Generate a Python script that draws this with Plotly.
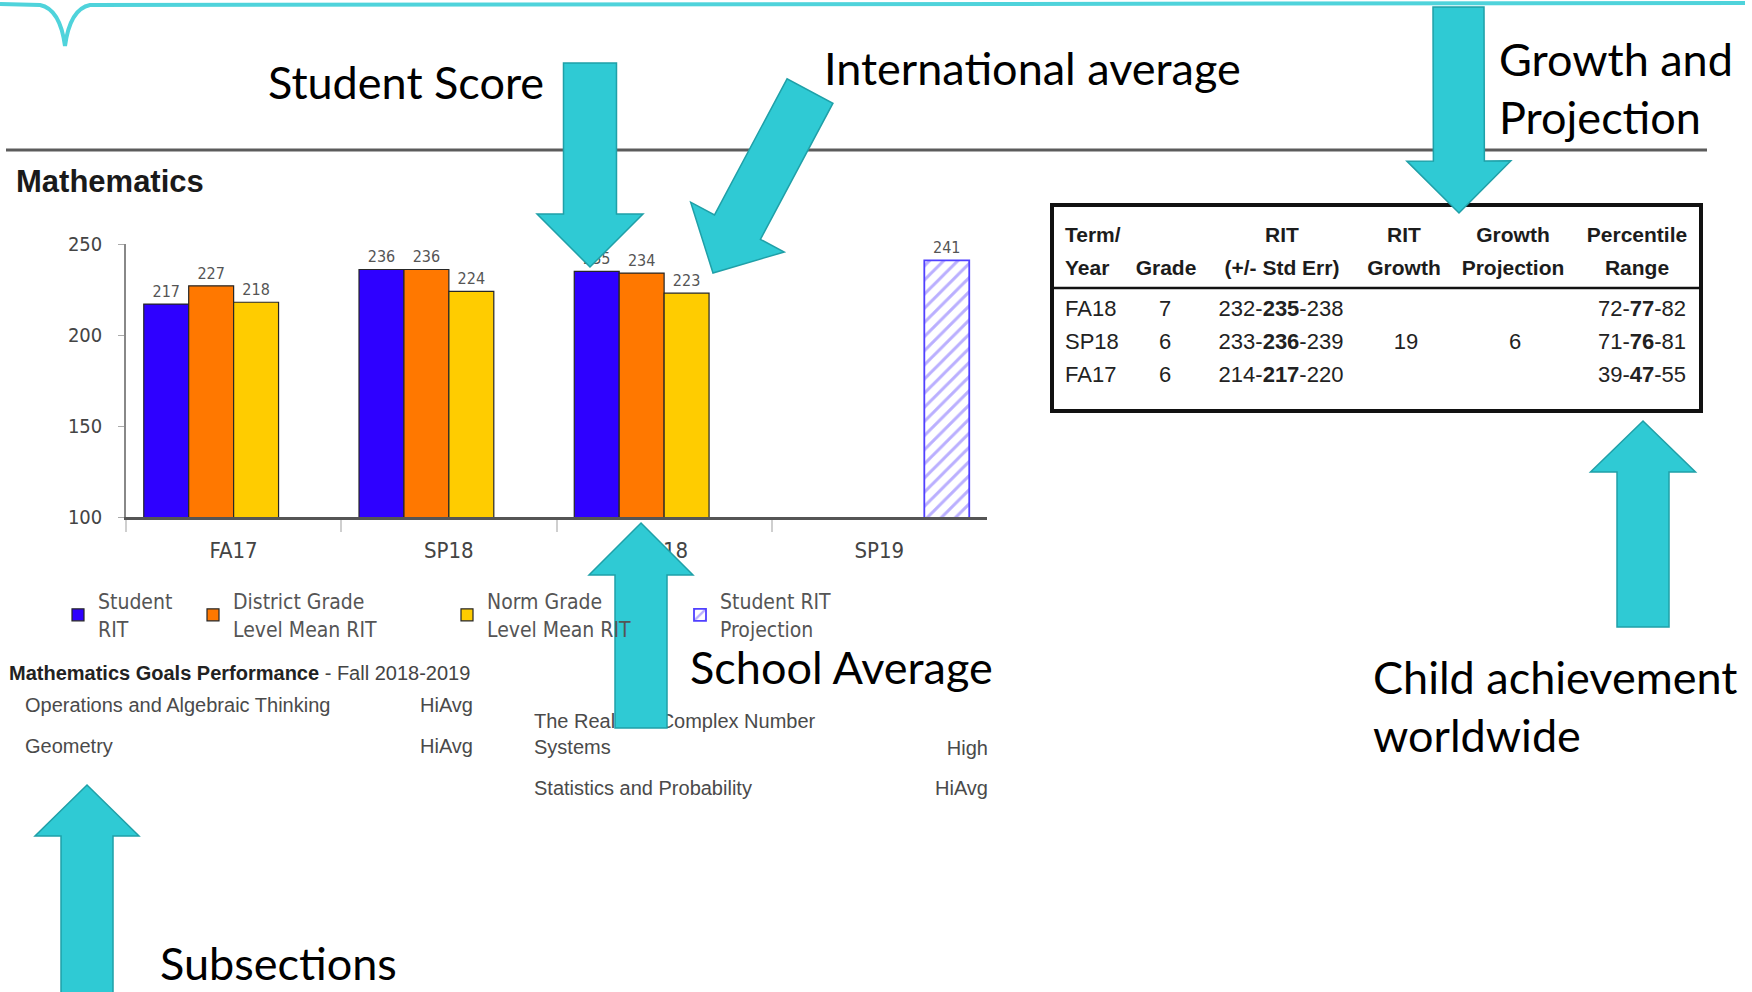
import math
import plotly.graph_objects as go

W, H = 1752, 992

# ---------------- data ----------------
terms = ["FA17", "SP18", "FA18", "SP19"]
student_rit = [217, 236, 235, None]
district_mean_rit = [227, 236, 234, None]
norm_mean_rit = [218, 224, 223, None]
rit_projection = [None, None, None, 241]
y_ticks = [100, 150, 200, 250]
series_names = ["Student<br>RIT", "District Grade<br>Level Mean RIT",
                "Norm Grade<br>Level Mean RIT", "Student RIT<br>Projection"]

tbl_headers = ["Term/<br>Year", "<br>Grade", "RIT<br>(+/- Std Err)", "RIT<br>Growth",
               "Growth<br>Projection", "Percentile<br>Range"]
tbl_term = ["FA18", "SP18", "FA17"]
tbl_grade = [7, 6, 6]
tbl_rit_lo = [232, 233, 214]
tbl_rit = [235, 236, 217]
tbl_rit_hi = [238, 239, 220]
tbl_growth = [None, 19, None]
tbl_growth_proj = [None, 6, None]
tbl_pct_lo = [72, 71, 39]
tbl_pct = [77, 76, 47]
tbl_pct_hi = [82, 81, 55]

goals_title_bold = "Mathematics Goals Performance"
goals_title_rest = " - Fall 2018-2019"
goal_names = ["Operations and Algebraic Thinking", "Geometry",
              "The Real and Complex Number<br>Systems", "Statistics and Probability"]
goal_levels = ["HiAvg", "HiAvg", "High", "HiAvg"]

# ---------------- style ----------------
COND = "DejaVu Sans Condensed, DejaVu Sans, sans-serif"
NARROW = "Liberation Sans Narrow, Arial Narrow, Liberation Sans, Arial, sans-serif"
CAL = "Lato, Open Sans, sans-serif"
CYAN = "#2FCAD4"
CYAN_EDGE = "#1FA0A8"


def px(x):
    return x / W


def py(y):
    return 1 - y / H


def arrow_path(tail, tip, shaft_w, head_w, head_len):
    tx, ty = tail
    ex, ey = tip
    L = math.hypot(ex - tx, ey - ty)
    ux, uy = (ex - tx) / L, (ey - ty) / L
    nx, ny = -uy, ux
    bx, by = ex - ux * head_len, ey - uy * head_len
    s, h = shaft_w / 2, head_w / 2
    pts = [(tx + nx * s, ty + ny * s), (bx + nx * s, by + ny * s),
           (bx + nx * h, by + ny * h), (ex, ey),
           (bx - nx * h, by - ny * h), (bx - nx * s, by - ny * s),
           (tx - nx * s, ty - ny * s)]
    return "M " + " L ".join(f"{px(x):.5f},{py(y):.5f}" for x, y in pts) + " Z"


fig = go.Figure()

bar_colors = ["#2E00FF", "#FF7800", "#FFCC00"]
for i, (vals, col) in enumerate(zip([student_rit, district_mean_rit, norm_mean_rit], bar_colors)):
    fig.add_trace(go.Bar(
        x=terms, y=vals, name=series_names[i],
        marker=dict(color=col, line=dict(color="#262626", width=1.2)),
        texttemplate="%{y}", textposition="outside", cliponaxis=False,
        textfont=dict(family=COND, size=16, color="#555"),
        legend="legend" if i == 0 else f"legend{i + 1}",
    ))
fig.add_trace(go.Bar(
    x=terms, y=rit_projection, name=series_names[3],
    marker=dict(color="white",
                pattern=dict(shape="/", fgcolor="#7560FF", bgcolor="white", size=10, solidity=0.3),
                line=dict(color="#5040FF", width=1.8)),
    texttemplate="%{y}", textposition="outside", cliponaxis=False,
    textfont=dict(family=COND, size=16, color="#555"),
    legend="legend4",
))


def text_trace(xs, ys, texts, pos, size, color="#444", weight="normal", family=NARROW):
    return go.Scatter(x=xs, y=ys, text=texts, mode="text", xaxis="x2", yaxis="y2",
                      showlegend=False, hoverinfo="skip", cliponaxis=False,
                      textposition=pos,
                      textfont=dict(family=family, size=size, color=color, weight=weight))


# goals section
goal_pos_left = [(25, 707), (25, 748), (534, 736), (534, 790)]
goal_pos_right = [(473, 707), (473, 748), (988, 750), (988, 790)]
fig.add_trace(text_trace([9], [675],
                         [f"<b>{goals_title_bold}</b><span style='color:#444'>{goals_title_rest}</span>"],
                         "middle right", 20, color="#222"))
fig.add_trace(text_trace([p[0] for p in goal_pos_left], [p[1] for p in goal_pos_left],
                         goal_names, "middle right", 20, color="#4a4a4a"))
fig.add_trace(text_trace([p[0] for p in goal_pos_right], [p[1] for p in goal_pos_right],
                         goal_levels, "middle left", 20, color="#4a4a4a"))

# growth table (text placed in a boxed region)
col_anchor = [1065, 1165, 1281, 1406, 1515, 1686]
col_pos = ["middle right", "middle center", "middle center", "middle center", "middle center", "middle left"]
hdr_center = [1065, 1166, 1282, 1404, 1513, 1637]
hdr_pos = ["middle right", "middle center", "middle center", "middle center", "middle center", "middle center"]
hdr_line_y = [237, 270]
row_y = [310, 343, 376]


def fmt(v):
    return "" if v is None else str(v)


table_cols = [
    tbl_term,
    [fmt(g) for g in tbl_grade],
    [f"{a}-<b>{b}</b>-{c}" for a, b, c in zip(tbl_rit_lo, tbl_rit, tbl_rit_hi)],
    [fmt(v) for v in tbl_growth],
    [fmt(v) for v in tbl_growth_proj],
    [f"{a}-<b>{b}</b>-{c}" for a, b, c in zip(tbl_pct_lo, tbl_pct, tbl_pct_hi)],
]
for j, hdr in enumerate(tbl_headers):
    lines = hdr.split("<br>")
    fig.add_trace(text_trace([hdr_center[j]] * 2, hdr_line_y, lines, hdr_pos[j], 21,
                             color="#1c1c1c", weight="bold"))
    fig.add_trace(text_trace([col_anchor[j]] * len(row_y), row_y, table_cols[j], col_pos[j], 22,
                             color="#222"))

# ---------------- shapes ----------------
shapes = []
shapes.append(dict(type="path", xref="paper", yref="paper", layer="above",
                   path=(f"M {px(0)},{py(4)} L {px(40)},{py(5)} "
                         f"Q {px(60)},{py(9)} {px(65)},{py(46)} "
                         f"Q {px(70)},{py(9)} {px(90)},{py(5)} L {px(1745)},{py(3)}"),
                   line=dict(color="#4FD3DB", width=4)))
shapes.append(dict(type="line", xref="paper", yref="paper", x0=px(6), x1=px(1707),
                   y0=py(150), y1=py(150), line=dict(color="#5c5c5c", width=3)))
shapes.append(dict(type="rect", xref="paper", yref="paper", x0=px(1052), x1=px(1701),
                   y0=py(205), y1=py(411), line=dict(color="#111", width=4), layer="above"))
shapes.append(dict(type="line", xref="paper", yref="paper", x0=px(1054), x1=px(1699),
                   y0=py(288), y1=py(288), line=dict(color="#111", width=2.5), layer="above"))

arrows = [
    ((590, 63), (590, 267), 53, 106, 53),          # Student Score
    ((810, 91), (713, 273), 52, 106, 52),          # International average
    ((1458.5, 7), (1459, 213), 51, 104, 52),       # Growth and Projection
    ((641, 728), (641, 523), 52, 104, 52),         # School Average
    ((1643, 627), (1643, 421), 52, 105, 51),       # Child achievement
    ((87, 993), (87, 785), 52, 104, 51),           # Subsections
]
for tail, tip, sw, hw, hl in arrows:
    shapes.append(dict(type="path", xref="paper", yref="paper", layer="above",
                       path=arrow_path(tail, tip, sw, hw, hl),
                       fillcolor=CYAN, line=dict(color=CYAN_EDGE, width=1.5)))

# ---------------- annotations ----------------
ann = []


def label(text, x, y, size=45, family=CAL, color="#000", anchor="left"):
    ann.append(dict(text=text, x=px(x), y=py(y), xref="paper", yref="paper",
                    xanchor=anchor, yanchor="middle", showarrow=False,
                    font=dict(family=family, size=size, color=color)))


label("<b>Mathematics</b>", 14, 181, size=31, family=NARROW, color="#1a1a1a")
label("Student Score", 266, 82)
label("International average", 822, 68)
label("Growth and", 1497, 59)
label("Projection", 1497, 117)
label("School Average", 688, 667)
label("Child achievement", 1371, 677)
label("worldwide", 1371, 735)
label("Subsections", 158, 963)

legend_common = dict(orientation="v", xanchor="left", yanchor="middle", bgcolor="rgba(0,0,0,0)",
                     font=dict(family=COND, size=21, color="#555"), itemclick=False)
legend_text_x = [98, 233, 487, 720]


def leg(i):
    d = dict(legend_common)
    d["x"] = px(legend_text_x[i] - 40)
    d["y"] = py(615)
    return d


fig.update_layout(
    width=W, height=H, autosize=False,
    margin=dict(l=0, r=0, t=0, b=0, pad=0, autoexpand=False),
    paper_bgcolor="white", plot_bgcolor="rgba(0,0,0,0)",
    barmode="group", bargap=0.165, bargroupgap=0,
    xaxis=dict(domain=[px(126), px(987)], type="category", showline=True,
               linecolor="#555", linewidth=3, ticks="outside", tickson="boundaries",
               ticklen=12, tickcolor="#cfcfcf", tickwidth=1.5, showgrid=False, zeroline=False,
               tickfont=dict(family=COND, size=22, color="#444"), ticklabelstandoff=12),
    yaxis=dict(domain=[py(517), py(244)], range=[100, 250], tickvals=y_ticks,
               showline=True, linecolor="#888", linewidth=1.5, ticks="outside", ticklen=6,
               tickcolor="#aaa", showgrid=False, zeroline=False,
               tickfont=dict(family=COND, size=20, color="#444"), ticklabelstandoff=12),
    xaxis2=dict(domain=[0, 1], range=[0, W], visible=False, anchor="y2", fixedrange=True),
    yaxis2=dict(domain=[0, 1], range=[H, 0], visible=False, anchor="x2", fixedrange=True),
    legend=leg(0), legend2=leg(1), legend3=leg(2), legend4=leg(3),
    shapes=shapes, annotations=ann,
)

fig.write_html("out.html")
